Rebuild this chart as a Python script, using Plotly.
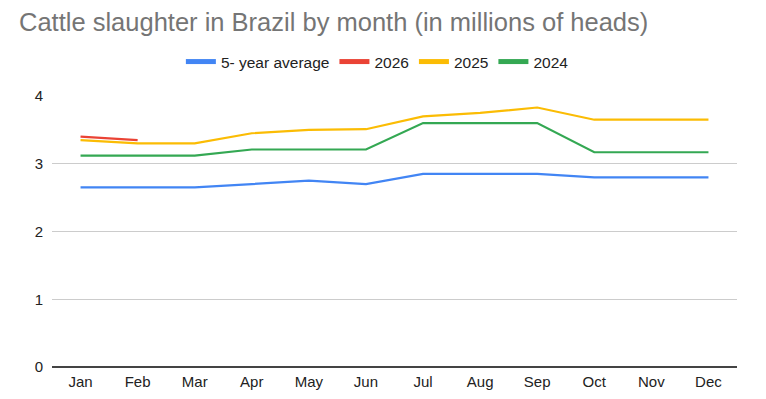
import plotly.graph_objects as go

months = ["Jan", "Feb", "Mar", "Apr", "May", "Jun", "Jul", "Aug", "Sep", "Oct", "Nov", "Dec"]
avg5 = [2.65, 2.65, 2.65, 2.70, 2.75, 2.70, 2.85, 2.85, 2.85, 2.80, 2.80, 2.80]
y2026 = [3.40, 3.35]
y2025 = [3.35, 3.30, 3.30, 3.45, 3.50, 3.51, 3.70, 3.75, 3.83, 3.65, 3.65, 3.65]
y2024 = [3.12, 3.12, 3.12, 3.21, 3.21, 3.21, 3.60, 3.60, 3.60, 3.17, 3.17, 3.17]

series = [
    ("5- year average", avg5, "#4285F4"),
    ("2026", y2026, "#EA4335"),
    ("2025", y2025, "#FBBC04"),
    ("2024", y2024, "#34A853"),
]

# the page body has an 8px margin; the figure is sized/offset to compensate
W, H = 758, 391

fig = go.Figure()
for name, vals, color in series:
    fig.add_trace(go.Scatter(x=months[:len(vals)], y=vals, name=name, mode="lines",
                             line=dict(color=color, width=2.2), legendgroup=name,
                             showlegend=False))
    # legend swatch (thicker line)
    fig.add_trace(go.Scatter(x=[None], y=[None], name=name, mode="lines",
                             line=dict(color=color, width=5), legendgroup=name,
                             showlegend=True, hoverinfo="skip"))

fig.update_layout(
    width=W, height=H,
    margin=dict(l=44, r=29, t=88, b=32, autoexpand=False),
    paper_bgcolor="white", plot_bgcolor="white",
    font=dict(family="Liberation Sans, Arial, sans-serif", size=15, color="#222222"),
    title=dict(text="Cattle slaughter in Brazil by month (in millions of heads)",
               xref="container", yref="container", x=11/W, y=1 - 14/H,
               xanchor="left", yanchor="middle",
               font=dict(size=25.5, color="#757575")),
    showlegend=True,
    legend=dict(orientation="h", x=0.475, xanchor="center", y=1.1255, yanchor="middle",
                font=dict(size=15.5, color="#222222"), itemwidth=30, traceorder="normal"),
    xaxis=dict(range=[-0.5, 11.5], showgrid=False, showline=False, zeroline=False, ticks="",
               automargin=False, ticklabelstandoff=4, tickfont=dict(size=15, color="#222222")),
    yaxis=dict(range=[0, 4], tickvals=[0, 1, 2, 3, 4], showgrid=True, gridcolor="#cccccc",
               gridwidth=1, zeroline=True, zerolinecolor="#444444", zerolinewidth=1.5,
               showline=False, ticks="", ticklabelstandoff=8, automargin=False,
               tickfont=dict(size=15, color="#222222")),
)

fig.write_html("out.html")
